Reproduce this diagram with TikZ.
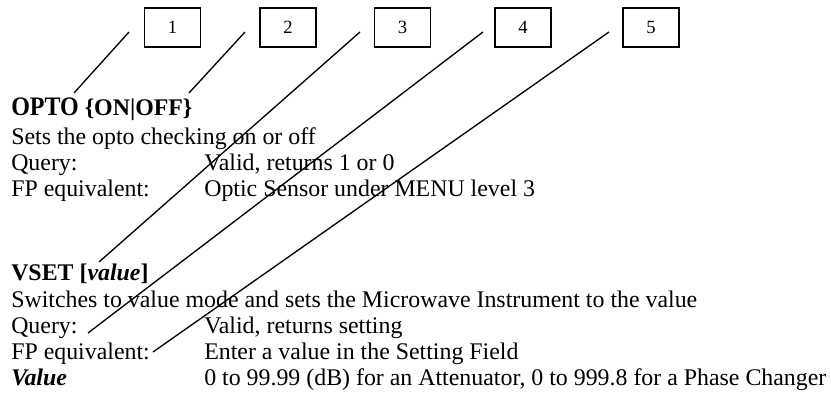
\documentclass[tikz,border=0pt]{standalone}
\usepackage{fontspec}
\usepackage{graphicx}
\setmainfont{Liberation Serif}
\def\px{0.75pt}
\begin{document}
\begin{tikzpicture}[x=0.75pt,y=-0.75pt,
  numbox/.style={draw, line width=1.2pt, minimum width=56*\px, minimum height=39*\px, inner sep=0pt, font=\fontsize{14}{16}\selectfont},
  txt/.style={anchor=base west, inner sep=0pt, font=\fontsize{17.9}{21}\selectfont},
  lead/.style={line width=1pt}]
\useasboundingbox (0,0) rectangle (831,398);
% boxes
\node[numbox] (b1) at (172.5,27.5) {1};
\node[numbox] (b2) at (288,27.5) {2};
\node[numbox] (b3) at (402.5,27.5) {3};
\node[numbox] (b4) at (523,27.5) {4};
\node[numbox] (b5) at (651,27.5) {5};
% texts
\node[txt] (opto) at (11,115.5) {\bfseries\scalebox{0.9}[1]{\fontsize{20}{24}\selectfont OPTO} \{ON|OFF\}};
\node[txt] (sets) at (11,145) {Sets the opto checking on or off};
\node[txt] (q1) at (11,171) {Query:};
\node[txt] (q1v) at (204,171) {Valid, returns 1 or 0};
\node[txt] (fp1) at (11,197) {FP equivalent:};
\node[txt] (fp1v) at (204,197) {Optic Sensor under MENU level 3};
\node[txt] (vset) at (11,281) {\bfseries VSET [\textit{value}]};
\node[txt] (sw) at (11,308) {Switches to value mode and sets the Microwave Instrument to the value};
\node[txt] (q2) at (11,334) {Query:};
\node[txt] (q2v) at (204,334) {Valid, returns setting};
\node[txt] (fp2) at (11,360) {FP equivalent:};
\node[txt] (fp2v) at (204,360) {Enter a value in the Setting Field};
\node[txt] (val) at (11,386) {\bfseries\itshape Value};
\node[txt] (valv) at (204,386) {0 to 99.99 (dB) for an Attenuator, 0 to 999.8 for a Phase Changer};
% leader end points
\coordinate (s1) at (129,32);
\coordinate (e1) at (74,93);
\coordinate (s2) at (245,32);
\coordinate (e2) at (189,93);
\coordinate (s3) at (360,32);
\coordinate (e3) at (99,262);
\coordinate (s4) at (483,32);
\coordinate (e4) at (88,333);
\coordinate (s5) at (609,32);
\coordinate (e5) at (153,352);
\draw[lead] (s1) -- (e1);
\draw[lead] (s2) -- (e2);
\draw[lead] (s3) -- (e3);
\draw[lead] (s4) -- (e4);
\draw[lead] (s5) -- (e5);
\end{tikzpicture}
\end{document}
